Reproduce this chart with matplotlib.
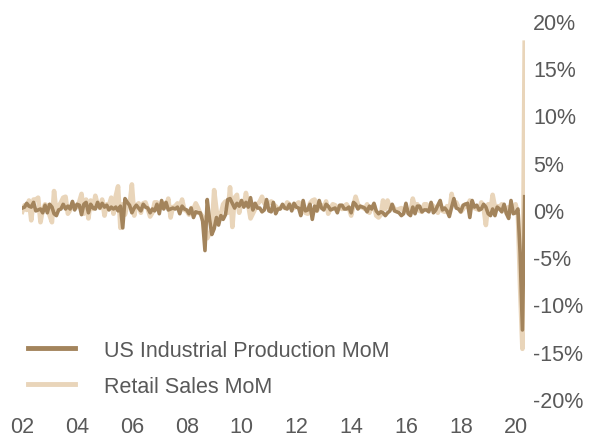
import matplotlib
matplotlib.use("Agg")
import matplotlib.pyplot as plt
import numpy as np
import pandas as pd

# monthly % change, Jan 2002 - May 2020
ip_mom = [
    0.2, 0.3, 0.7, 0.4, 0.3, 0.8, -0.1, 0.0, 0.1, -0.3, 0.5, -0.3,
    0.6, 0.3, -0.4, -0.6, 0.0, 0.1, 0.6, 0.1, 0.4, 0.1, 0.9, 0.0,
    0.6, 0.5, -0.5, 0.6, 0.8, -0.3, 0.6, 0.2, 0.1, 0.8, 0.2, 0.7,
    0.3, 0.5, 0.0, 0.3, 0.1, 0.3, -0.1, 0.4, -1.9, 1.2, 0.8, 0.5,
    -0.3, 0.2, 0.5, 0.2, -0.1, 0.6, 0.3, 0.2, -0.3, 0.1, -0.1, 0.6,
    -0.4, 1.0, 0.1, 0.8, 0.0, 0.1, 0.2, 0.1, 0.3, -0.4, 0.4, 0.1,
    0.0, -0.4, 0.2, -0.8, -0.2, -0.3, -0.3, -1.2, -4.3, 1.1, -1.0, -2.6,
    -2.0, -0.8, -1.6, -0.6, -1.0, -0.5, 1.1, 1.2, 0.7, 0.2, 0.7, 0.4,
    1.0, 0.3, 0.8, 0.3, 1.3, 0.0, 0.7, 0.2, 0.2, -0.2, 0.0, 1.1,
    -0.1, -0.2, 0.8, -0.4, 0.1, 0.1, 0.6, 0.2, 0.1, 0.6, -0.1, 0.7,
    0.3, 0.2, -0.6, 1.0, -0.1, 0.0, 0.6, -1.0, 0.4, -0.1, 1.0, 0.2,
    0.0, 0.6, 0.4, 0.0, 0.1, 0.2, -0.3, 0.5, 0.5, 0.1, 0.1, 0.3,
    -0.3, 0.8, 0.6, 0.1, 0.4, 0.3, 0.2, -0.2, 0.4, 0.1, 0.7, -0.1,
    -0.4, -0.2, -0.3, -0.6, -0.3, -0.1, 0.6, -0.1, -0.2, -0.3, -0.6, -0.4,
    0.7, -0.4, -0.6, 0.3, -0.4, 0.4, 0.4, -0.2, 0.0, 0.0, -0.2, 0.8,
    -0.3, 0.0, 0.5, 1.0, 0.0, 0.2, -0.1, -0.7, 0.3, 1.2, 0.2, 0.1,
    -0.2, 0.5, 0.6, 0.7, -0.8, 1.0, 0.3, 0.5, 0.0, 0.1, 0.6, 0.3,
    -0.4, -0.6, 0.1, -0.6, 0.3, 0.1, -0.2, 0.6, -0.4, -0.9, 1.0, -0.4,
    -0.3, 0.1, -4.5, -12.7, 1.4,
]
retail_mom = [
    -0.2, 0.5, 0.0, 1.0, -1.1, 1.1, 1.1, 1.3, -1.3, 0.0, 0.6, 0.4,
    -0.6, -1.3, 2.0, -0.2, 0.4, 0.8, 1.3, 1.4, -0.4, 0.0, 0.7, 0.3,
    0.3, 0.9, 1.7, -0.4, 1.1, -0.9, 1.0, 0.1, 1.5, 0.6, 0.2, 1.1,
    -0.6, 0.6, 0.5, 1.3, -0.4, 1.5, 2.5, -1.9, 0.6, -0.5, 0.6, 0.5,
    2.7, -0.6, 0.5, 0.7, -0.3, 0.7, 0.8, 0.1, -0.7, -0.3, 0.8, 0.8,
    0.1, 0.5, 0.7, 0.3, 1.2, -0.8, 0.3, 0.4, 0.7, 0.3, 1.1, 0.0,
    -0.1, -0.5, 0.2, 0.1, 0.7, 0.2, -0.4, -0.7, -1.1, -3.0, -2.5, -2.2,
    2.1, 0.0, -1.3, -0.4, 0.6, 0.9, -0.3, 2.4, -1.8, 1.3, 1.6, -0.3,
    0.9, 0.5, 1.8, 0.5, -0.9, -0.4, 0.1, 0.6, 0.9, 1.4, 0.7, 0.6,
    0.7, 0.9, 0.6, 0.4, 0.1, 0.2, 0.4, 0.2, 0.8, 0.6, 0.3, 0.2,
    0.6, 0.8, 0.6, 0.0, -0.3, -0.4, 0.7, 1.0, 1.1, -0.1, 0.4, 0.5,
    0.2, 0.9, -0.4, 0.2, 0.6, 0.5, 0.2, 0.3, 0.1, 0.4, 0.6, 0.2,
    -0.6, 0.5, 1.4, 0.6, 0.3, 0.3, 0.1, 0.6, -0.3, 0.3, 0.5, -0.6,
    -0.8, -0.5, 1.0, 0.1, 1.0, 0.2, 0.5, 0.1, 0.0, 0.1, 0.2, -0.1,
    0.1, -0.3, -0.3, 1.2, 0.3, 0.6, -0.1, -0.2, 0.6, 0.6, 0.1, 0.6,
    0.4, 0.1, -0.3, 0.6, -0.1, -0.2, 0.4, -0.2, 1.7, 0.5, 0.8, 0.3,
    -0.2, 0.1, 0.6, 0.3, 1.0, 0.4, 0.2, 0.1, 0.0, 0.8, 0.2, -1.6,
    0.6, -0.1, 1.6, 0.3, 0.4, 0.3, 0.6, 0.4, -0.3, 0.3, 0.2, 0.2,
    0.6, -0.5, -8.2, -14.7, 17.7,
]
dates = pd.date_range("2002-01-01", periods=len(ip_mom), freq="MS")
years = list(range(2002, 2021, 2))
yticks = [20, 15, 10, 5, 0, -5, -10, -15, -20]

plt.rcParams['font.family'] = ['Liberation Sans', 'DejaVu Sans']
txt = '#595959'

fig = plt.figure(figsize=(6.01, 4.39), dpi=100)
ax = fig.add_axes([0.037, 0.089, 0.836, 0.861])

ax.plot(dates, retail_mom, color='#E9D5BA', lw=3.3, label='Retail Sales MoM', zorder=2)
ax.plot(dates, ip_mom, color='#A3845C', lw=2.6, label='US Industrial Production MoM', zorder=3)

ax.set_ylim(-20, 20)
ax.set_xlim(dates[0], dates[-1])
ax.yaxis.tick_right()
ax.set_yticks(yticks)
ax.set_yticklabels(['%d%%' % v for v in yticks])
ax.set_xticks([pd.Timestamp(y, 1, 1) for y in years])
ax.set_xticklabels(['%02d' % (y % 100) for y in years])
ax.tick_params(length=0, labelsize=15.5, colors=txt, pad=6)
ax.tick_params(axis='x', pad=12)
for s in ax.spines.values():
    s.set_visible(False)

h, l = ax.get_legend_handles_labels()
leg = ax.legend(h[::-1], l[::-1], loc='lower left', bbox_to_anchor=(-0.028, -0.045),
                frameon=False, fontsize=15.5, handlelength=2.2, handletextpad=1.35,
                labelspacing=0.68)
for t in leg.get_texts():
    t.set_color(txt)
for ln in leg.get_lines():
    ln.set_linewidth(3.5)

fig.savefig('out.png', dpi=100)
